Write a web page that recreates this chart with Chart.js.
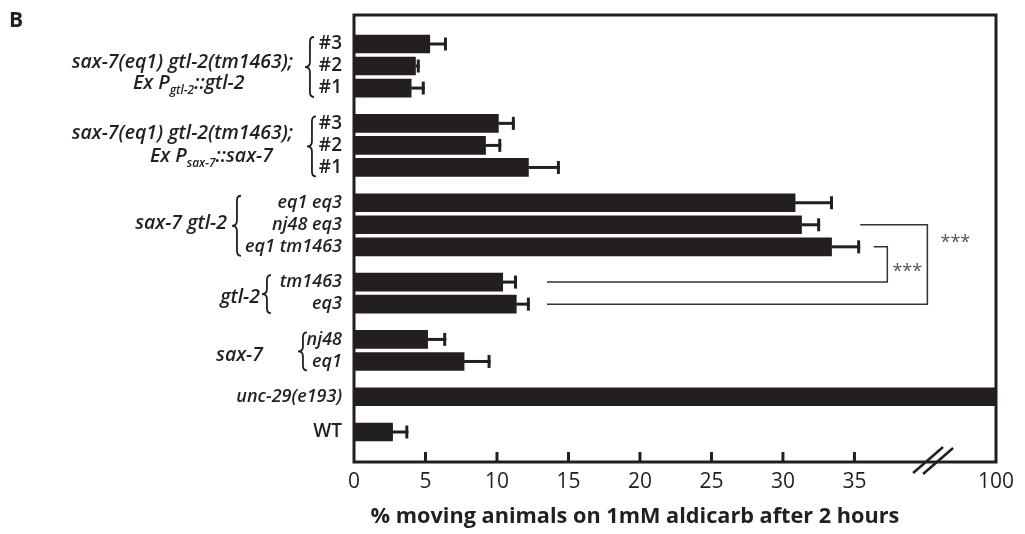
<!DOCTYPE html>
<html><head><meta charset="utf-8">
<script src="https://cdn.jsdelivr.net/npm/chart.js@4.4.1/dist/chart.umd.min.js"></script>
<style>html,body{margin:0;padding:0;background:#fff;}canvas{display:block;}</style>
</head><body>
<canvas id="c" width="1025" height="534"></canvas>
<script>
// ---------- data ----------
const rowLabels = ['#3','#2','#1','#3','#2','#1','eq1 eq3','nj48 eq3','eq1 tm1463','tm1463','eq3','nj48','eq1','unc-29(e193)','WT'];
const rowGroups = [0,0,0,1,1,1,2,2,2,3,3,4,4,5,6];
const means = [5.3,4.3,4.0,10.1,9.2,12.2,30.85,31.3,33.4,10.4,11.35,5.15,7.7,100,2.7];
const sems  = [1.2,0.3,0.95,1.15,1.1,2.2,2.65,1.3,2.0,1.0,0.95,1.3,1.85,0,1.1];
const xTickValues = [0,5,10,15,20,25,30,35,100];
const xTickLabels = ['0','5','10','15','20','25','30','35','100'];
const xTitle = '% moving animals on 1mM aldicarb after 2 hours';
const panelLetter = 'B';
const groupLabels = [
  [[{t:'sax-7(eq1) gtl-2(tm1463);'}],[{t:'Ex P'},{t:'gtl-2',sub:true},{t:'::gtl-2'}]],
  [[{t:'sax-7(eq1) gtl-2(tm1463);'}],[{t:'Ex P'},{t:'sax-7',sub:true},{t:'::sax-7'}]],
  [[{t:'sax-7 gtl-2'}]],
  [[{t:'gtl-2'}]],
  [[{t:'sax-7'}]]
];
const sigBrackets = [
  {topRow:7, bottomRow:10, topStart:35.4, bottomStart:13.5, spine:40.1, label:'***'},
  {topRow:8, bottomRow:9,  topStart:36.35, bottomStart:13.5, spine:37.3, label:'***'}
];

// ---------- layout / style ----------
const INK = '#231f20';
const FONT = 'Open Sans';
const LW = 600;             // label weight
const GROUP_GAP = 0.6;
const AXIS_END = 44.9;      // display units at right frame (= 100)
const BREAK_START = 40;
const BREAK_MARK = 40.5;
function brk(v){ return v <= BREAK_START ? v : BREAK_START + (v - BREAK_START) / (100 - BREAK_START) * (AXIS_END - BREAK_START); }
const positions = rowGroups.map((g,i)=> i + g*GROUP_GAP);

const groupLayout = [
  {lines:[{x:293,y:62,align:'right'},{x:133,y:83,align:'left'}], brace:305},
  {lines:[{x:293,y:133,align:'right'},{x:150,y:156,align:'left'}], brace:307},
  {lines:[{x:227,y:223,align:'right'}], brace:232},
  {lines:[{x:260,y:297,align:'right'}], brace:262},
  {lines:[{x:263,y:355,align:'right'}], brace:298}
];
const labelSpec = [
  {dx:28, t:0.15},
  {dx:20, t:0.55}
];

function drawSegs(ctx, segs, x, y, align){
  const main = 'italic '+LW+' 19.5px "'+FONT+'"', sub = 'italic '+LW+' 12px "'+FONT+'"';
  let w = 0;
  segs.forEach(s=>{ ctx.font = s.sub?sub:main; w += ctx.measureText(s.t).width; });
  let cx = align==='right' ? x - w : (align==='center'? x - w/2 : x);
  ctx.textAlign='left'; ctx.textBaseline='middle';
  segs.forEach(s=>{ ctx.font = s.sub?sub:main; ctx.fillText(s.t, cx, s.sub? y+8 : y); cx += ctx.measureText(s.t).width; });
}
function drawBrace(ctx, x, top, bot, w){
  const mid = (top+bot)/2, xm = x + w*0.55, r = Math.min(5,(bot-top)/6);
  ctx.beginPath();
  ctx.moveTo(x+w, top);
  ctx.quadraticCurveTo(xm, top, xm, top+r);
  ctx.lineTo(xm, mid-r);
  ctx.quadraticCurveTo(xm, mid, x, mid);
  ctx.quadraticCurveTo(xm, mid, xm, mid+r);
  ctx.lineTo(xm, bot-r);
  ctx.quadraticCurveTo(xm, bot, x+w, bot);
  ctx.stroke();
}

const decor = {
  id:'decor',
  afterDatasetsDraw(chart){
    const {ctx, chartArea:a, scales:{x,y}} = chart;
    ctx.save();
    ctx.strokeStyle = INK; ctx.fillStyle = INK; ctx.lineCap='butt';
    ctx.lineWidth = 3;
    means.forEach((m,i)=>{
      if(!sems[i]) return;
      const py = y.getPixelForValue(positions[i]);
      const x0 = x.getPixelForValue(brk(m)), x1 = x.getPixelForValue(brk(m+sems[i]));
      ctx.beginPath(); ctx.moveTo(x0,py); ctx.lineTo(x1,py); ctx.stroke();
      ctx.beginPath(); ctx.moveTo(x1-1.5,py-6.5); ctx.lineTo(x1-1.5,py+6.5); ctx.stroke();
    });
    ctx.lineWidth = 3;
    ctx.strokeRect(a.left, a.top, a.right-a.left, a.bottom-a.top);
    xTickValues.forEach(v=>{
      if(v<=0 || v>=100) return;
      const px = x.getPixelForValue(brk(v));
      ctx.beginPath(); ctx.moveTo(px,a.bottom); ctx.lineTo(px,a.bottom-10); ctx.stroke();
    });
    const bx = x.getPixelForValue(BREAK_MARK);
    ctx.lineWidth = 2.5;
    ctx.beginPath(); ctx.moveTo(bx-20,a.bottom+11); ctx.lineTo(bx+10,a.bottom-15); ctx.stroke();
    ctx.beginPath(); ctx.moveTo(bx-10,a.bottom+12); ctx.lineTo(bx+20,a.bottom-14); ctx.stroke();
    ctx.lineWidth = 1.5; ctx.strokeStyle = '#333';
    sigBrackets.forEach((b,k)=>{
      const yt = y.getPixelForValue(positions[b.topRow]), yb = y.getPixelForValue(positions[b.bottomRow]);
      const xs = x.getPixelForValue(b.spine);
      ctx.beginPath();
      ctx.moveTo(x.getPixelForValue(b.topStart), yt);
      ctx.lineTo(xs, yt); ctx.lineTo(xs, yb);
      ctx.lineTo(x.getPixelForValue(b.bottomStart), yb);
      ctx.stroke();
      ctx.fillStyle = '#555'; ctx.font = '18px "'+FONT+'"'; ctx.textAlign='center'; ctx.textBaseline='alphabetic';
      const ls = labelSpec[k];
      ctx.fillText(b.label, xs + ls.dx, yt + (yb-yt)*ls.t + 11);
    });
    ctx.fillStyle = INK; ctx.strokeStyle = INK; ctx.lineWidth = 1.8;
    groupLabels.forEach((lines,g)=>{
      const L = groupLayout[g];
      lines.forEach((segs,j)=> drawSegs(ctx, segs, L.lines[j].x, L.lines[j].y, L.lines[j].align));
      const idx = rowGroups.map((gg,i)=>gg===g?i:-1).filter(i=>i>=0);
      const top = y.getPixelForValue(positions[idx[0]]) - 7;
      const bot = y.getPixelForValue(positions[idx[idx.length-1]]) + 9;
      drawBrace(ctx, L.brace, top, bot, 9);
    });
    ctx.fillStyle = INK; ctx.font = 'bold 21.7px "'+FONT+'"'; ctx.textAlign='center'; ctx.textBaseline='alphabetic';
    ctx.fillText(xTitle, 635, 523);
    ctx.font = 'bold 21px "'+FONT+'"'; ctx.textAlign='left';
    ctx.fillText(panelLetter, 9, 27);
    ctx.restore();
  }
};

new Chart(document.getElementById('c').getContext('2d'), {
  type:'bar',
  data:{ datasets:[{ data: means.map((m,i)=>({x:brk(m), y:positions[i]})), backgroundColor:INK, borderWidth:0, barThickness:18 }]},
  options:{
    indexAxis:'y', responsive:false, animation:false, devicePixelRatio:1,
    layout:{padding:{top:15,right:29,left:0,bottom:0}},
    plugins:{legend:{display:false}, tooltip:{enabled:false}},
    scales:{
      x:{type:'linear', min:0, max:AXIS_END, offset:false, grid:{display:false, drawTicks:false}, border:{display:false},
         afterBuildTicks: s=>{ s.ticks = xTickValues.map(v=>({value:brk(v)})); },
         ticks:{autoSkip:false, maxRotation:0, padding:7, color:INK, font:{family:FONT, size:21, weight:500}, callback:(v,i)=>xTickLabels[i]},
         afterFit: s=>{ s.height = 72; } },
      y:{type:'linear', reverse:true, min:-1.315, max:18.96, offset:false, grid:{display:false, drawTicks:false, offset:false}, border:{display:false},
         afterBuildTicks: s=>{ s.ticks = positions.map(v=>({value:v})); },
         ticks:{autoSkip:false, padding:12, color:INK,
                font: c=>{ const l = rowLabels[c.index] || ''; const upright = l==='WT' || l.charAt(0)==='#';
                           return {family:FONT, size: upright?19:18, weight:LW, style: upright ? 'normal' : 'italic'}; },
                callback:(v,i)=>rowLabels[i]},
         afterFit: s=>{ s.width = 354; s.paddingTop = 0; s.paddingBottom = 0; } }
    }
  },
  plugins:[decor]
});
</script>
</body></html>
